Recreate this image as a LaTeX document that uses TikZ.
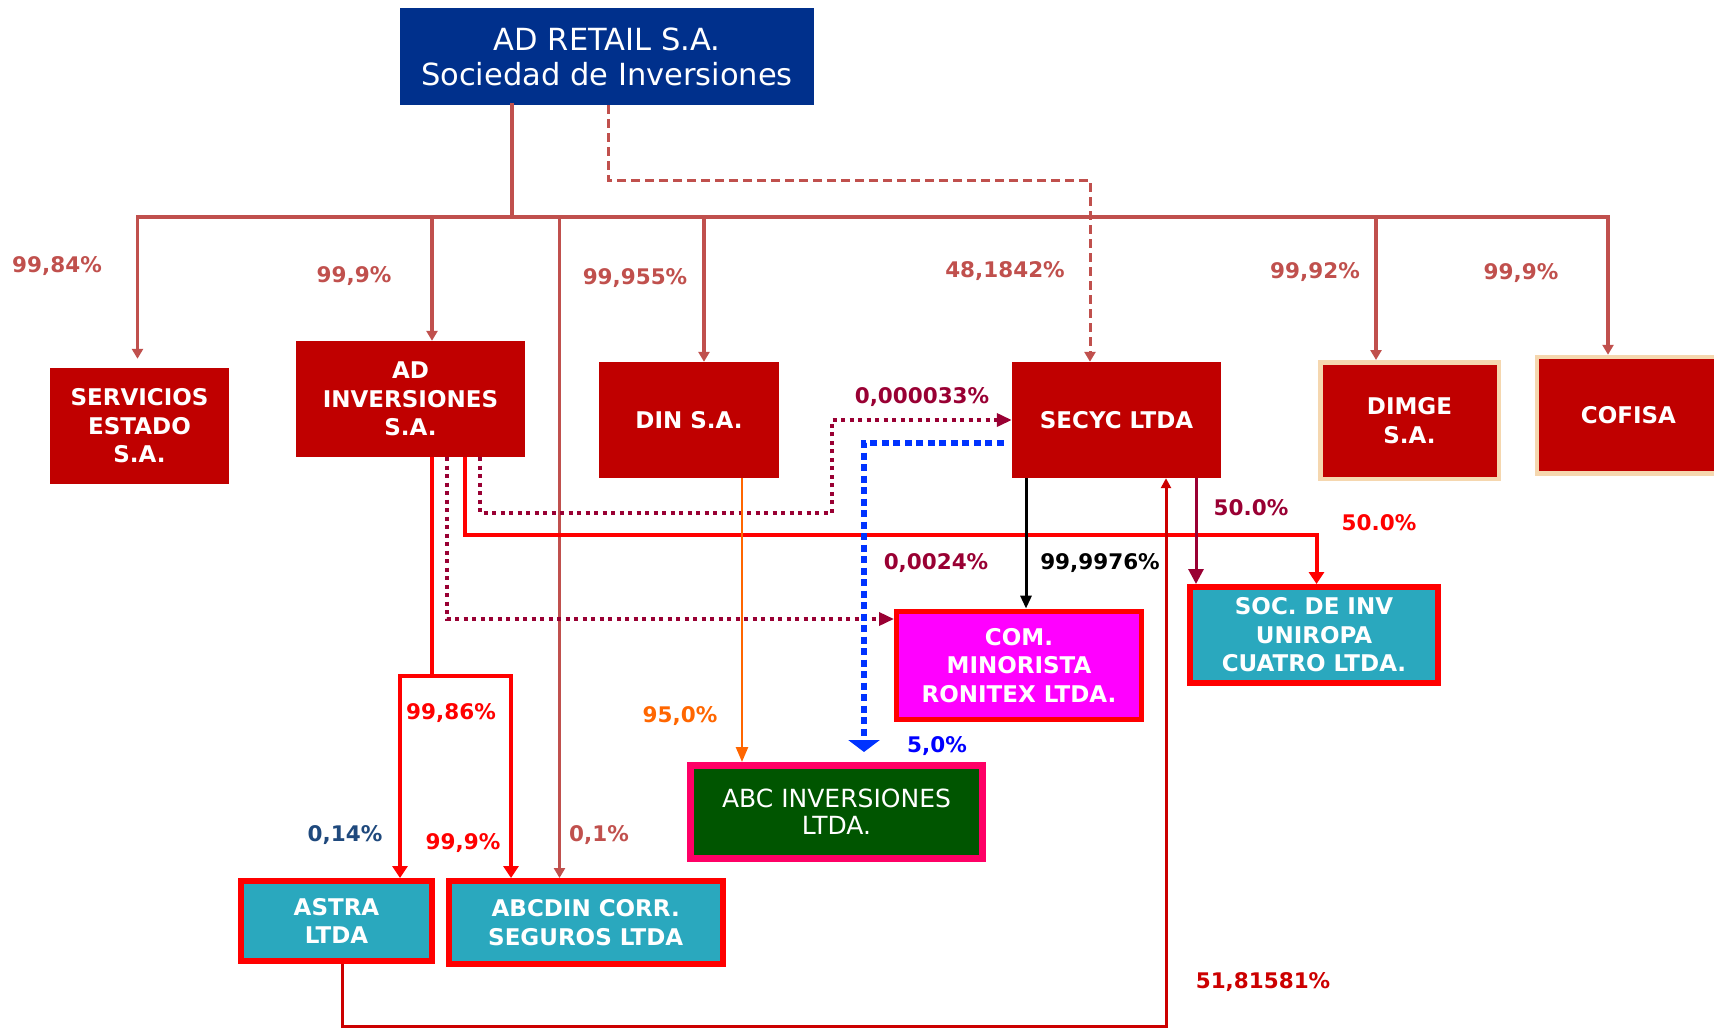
\documentclass[tikz,border=0pt]{standalone}
\usepackage{fontspec}
\setmainfont{DejaVu Sans}
\usetikzlibrary{arrows.meta}

\definecolor{boxred}{RGB}{192,0,0}
\definecolor{retailblue}{RGB}{0,48,140}
\definecolor{treered}{RGB}{192,80,77}
\definecolor{tealfill}{RGB}{42,168,190}
\definecolor{burg}{RGB}{153,0,51}
\definecolor{beige}{RGB}{245,215,175}
\definecolor{abcgreen}{RGB}{0,85,0}
\definecolor{pinkedge}{RGB}{255,0,102}
\definecolor{orng}{RGB}{255,102,0}
\definecolor{deepred}{RGB}{204,0,0}
\definecolor{slateblue}{RGB}{31,73,125}
\definecolor{dotblue}{RGB}{0,51,255}
\definecolor{minorfill}{RGB}{255,0,255}

\newcommand{\boxfont}{\fontsize{23}{28.5}\selectfont\bfseries}
\newcommand{\retailfont}{\fontsize{30.5}{35}\selectfont}
\newcommand{\abcfont}{\fontsize{25}{27}\selectfont}
\newcommand{\pctfont}{\fontsize{21.5}{25}\selectfont\bfseries}

\begin{document}
\begin{tikzpicture}[x=1pt,y=-1pt,>={Triangle[width=11pt,length=10pt]},
    box/.style={align=center, inner sep=0pt, text=white, font=\boxfont},
    redbox/.style={box, fill=boxred},
    framedbox/.style={box, fill=boxred, draw=beige, line width=4.5pt},
    tealbox/.style={box, fill=tealfill, draw=red, line width=6pt},
    pct/.style={font=\pctfont, inner sep=0pt},
    treeline/.style={draw=treered, line width=3.5pt, line cap=rect},
    treedash/.style={draw=treered, line width=3pt, dash pattern=on 9pt off 5pt},
    redline/.style={draw=red, line width=4pt, >={Triangle[width=15pt,length=12pt]}},
    dotline/.style={draw=burg, line width=3.5pt, dash pattern=on 4pt off 4.5pt,
        >={Triangle[width=13pt,length=15pt]}},
    blueline/.style={draw=dotblue, line width=5.5pt, dash pattern=on 7pt off 4.5pt,
        >={Triangle[width=31pt,length=12pt]}},
    orangeline/.style={draw=orng, line width=2.5pt, >={Triangle[width=12pt,length=15pt]}},
    blackline/.style={draw=black, line width=3pt, >={Triangle[width=11pt,length=13pt]}},
    burgline/.style={draw=burg, line width=3pt, >={Triangle[width=15pt,length=15pt]}},
    deepline/.style={draw=deepred, line width=3pt, >={Triangle[width=10pt,length=10pt]}}]

    \useasboundingbox (0,0) rectangle (1714,1028);

    % companies
    \node[box, fill=retailblue, font=\retailfont, minimum width=414pt, minimum height=97pt] (retail) at (607,56.5) {AD RETAIL S.A.\\Sociedad de Inversiones};
    \node[redbox, minimum width=179pt, minimum height=116pt] (servicios) at (139.5,426) {SERVICIOS\\ESTADO\\S.A.};
    \node[redbox, minimum width=229pt, minimum height=116pt] (adinv) at (410.5,399) {AD\\INVERSIONES\\S.A.};
    \node[redbox, minimum width=180pt, minimum height=116pt] (din) at (689,420) {DIN S.A.};
    \node[redbox, minimum width=209pt, minimum height=116pt] (secyc) at (1116.5,420) {SECYC LTDA};
    \node[framedbox, minimum width=178.5pt, minimum height=116.5pt] (dimge) at (1409.5,420.5) {DIMGE\\S.A.};
    \node[framedbox, minimum width=183pt, minimum height=116.5pt] (cofisa) at (1628.5,415.25) {COFISA};
    \node[box, fill=minorfill, draw=red, line width=5pt, minimum width=245pt, minimum height=108.4pt] (comm) at (1019,665.3) {COM.\\MINORISTA\\RONITEX LTDA.};
    \node[tealbox, minimum width=248pt, minimum height=96pt] (soc) at (1314,635) {SOC. DE INV\\UNIROPA\\CUATRO LTDA.};
    \node[box, fill=abcgreen, draw=pinkedge, line width=7pt, font=\abcfont, minimum width=292pt, minimum height=93pt] (abc) at (836.5,812) {ABC INVERSIONES\\LTDA.};
    \node[tealbox, minimum width=191pt, minimum height=80pt] (astra) at (336.5,921) {ASTRA\\LTDA};
    \node[tealbox, minimum width=273.5pt, minimum height=83pt] (abcdin) at (585.75,922.5) {ABCDIN CORR.\\SEGUROS LTDA};

    % holding tree
    \coordinate (stem) at (512,217);
    \coordinate (busL) at (137.5,217);
    \coordinate (busR) at (1608,217);
    \draw[treeline] (retail.south -| stem) -- (stem);
    \draw[treeline,->] (busL) -- (busR) -- (busR |- cofisa.north);
    \draw[treeline,->,shorten >=9pt] (busL) -- (busL |- servicios.north);
    \foreach \n/\dx in {adinv/21.5, din/15, dimge/-33.5, abcdin/-26.25}
        \draw[treeline,->] ([xshift=\dx pt]\n.north |- stem) -- ([xshift=\dx pt]\n.north);

    \coordinate (dashA) at (608,180);
    \coordinate (dashB) at (1090,180);
    \draw[treedash,->] (retail.south -| dashA) -- (dashA) -- (dashB) -- (dashB |- secyc.north);

    % AD Inversiones
    \coordinate (split) at (432,675.5);
    \coordinate (splitL) at (400,675.5);
    \coordinate (splitR) at (511,675.5);
    \draw[redline] (adinv.south -| split) -- (split);
    \draw[redline,<->] (splitL |- astra.north) -- (splitL) -- (splitR) -- (splitR |- abcdin.north);

    \coordinate (dotA) at (447,619);
    \draw[dotline,->] (adinv.south -| dotA) -- (dotA) -- (dotA -| comm.west);

    \coordinate (redA) at (465,535);
    \coordinate (redB) at (1316.5,535);
    \draw[redline,->] (adinv.south -| redA) -- (redA) -- (redB) -- (redB |- soc.north);

    \coordinate (dotB) at (480,513);
    \coordinate (dotC) at (832,513);
    \draw[dotline,->] (adinv.south -| dotB) -- (dotB) -- (dotC) -- (dotC |- secyc.west) -- (secyc.west);

    % other holdings
    \draw[orangeline,->] ([xshift=53pt]din.south) -- ([xshift=53pt]din.south |- abc.north);

    \coordinate (blueA) at (864,443);
    \draw[blueline,->,shorten <=8pt,shorten >=10pt] ([yshift=-23pt]secyc.west) -- (blueA) -- (blueA |- abc.north);

    \draw[blackline,->] ([xshift=-90.5pt]secyc.south) -- ([xshift=-90.5pt]secyc.south |- comm.north);
    \draw[burgline,->] ([xshift=79.5pt]secyc.south) -- ([xshift=79.5pt]secyc.south |- soc.north);

    \coordinate (loopA) at (342,1026);
    \coordinate (loopB) at (1166,1026);
    \draw[deepline,->] (astra.south -| loopA) -- (loopA) -- (loopB) -- (loopB |- secyc.south);

    % percentages
    \node[pct, text=treered] (p1) at (57,266) {99,84\%};
    \node[pct, text=treered] (p2) at (354,276) {99,9\%};
    \node[pct, text=treered] (p3) at (635,278) {99,955\%};
    \node[pct, text=treered] (p4) at (1005,271) {48,1842\%};
    \node[pct, text=treered] (p5) at (1315,272) {99,92\%};
    \node[pct, text=treered] (p6) at (1521,273) {99,9\%};
    \node[pct, text=burg] (p7) at (922,397) {0,000033\%};
    \node[pct, text=burg] (p8) at (936,563) {0,0024\%};
    \node[pct, text=black] (p9) at (1100,563) {99,9976\%};
    \node[pct, text=burg] (p10) at (1251,508) {50.0\%};
    \node[pct, text=red] (p11) at (1379,523) {50.0\%};
    \node[pct, text=deepred] (p12) at (1263,982) {51,81581\%};
    \node[pct, text=red] (p13) at (451,713) {99,86\%};
    \node[pct, text=orng] (p14) at (680,716) {95,0\%};
    \node[pct, text=blue] (p15) at (937,746) {5,0\%};
    \node[pct, text=slateblue] (p16) at (345,835) {0,14\%};
    \node[pct, text=red] (p17) at (463,843) {99,9\%};
    \node[pct, text=treered] (p18) at (599,835) {0,1\%};
\end{tikzpicture}
\end{document}
